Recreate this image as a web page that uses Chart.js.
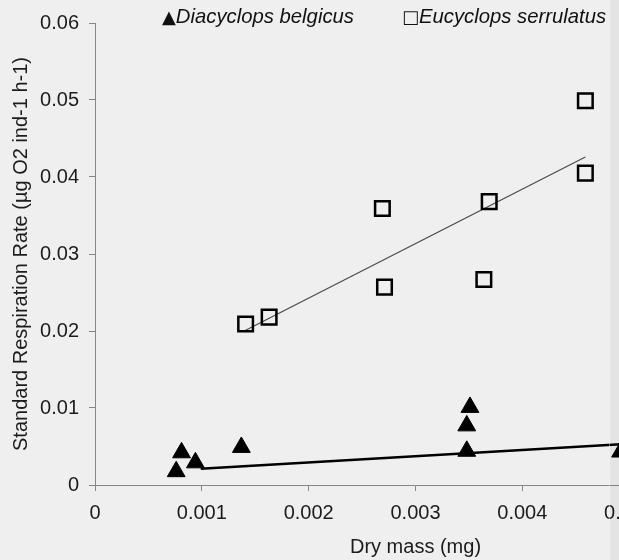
<!DOCTYPE html>
<html>
<head>
<meta charset="utf-8">
<script src="https://cdn.jsdelivr.net/npm/chart.js@4.4.1/dist/chart.umd.min.js"></script>
<style>
  html, body { margin: 0; padding: 0; width: 619px; height: 560px; overflow: hidden; background: #efefef; }
  #wrap { position: relative; width: 619px; height: 560px; overflow: hidden; }
  #respChart { position: absolute; left: 0; top: 0; }
  .legend { position: absolute; top: 4px; font: 20.3px "Liberation Sans", Arial, sans-serif; line-height: 24px; color: #111; white-space: nowrap; }
  .legend .sym { font-family: "DejaVu Sans", sans-serif; font-style: normal; font-size: 18px; }
  .legend i { font-style: italic; }
  #edge { position: absolute; left: 609px; top: 0; width: 10px; height: 560px; background: rgba(0,0,0,0.045); border-left: 1px solid rgba(255,255,255,0.4); pointer-events: none; }
</style>
</head>
<body>
<div id="wrap">
  <canvas id="respChart" width="771" height="560"></canvas>
  <div id="edge"></div>
  <div class="legend" style="left:162px"><span class="sym">▲</span><i>Diacyclops belgicus</i></div>
  <div class="legend" style="left:402px"><span class="sym">□</span><i>Eucyclops serrulatus</i></div>
</div>
<script>
// Diacyclops belgicus (filled triangles)
const diacyclopsMass = [0.00076, 0.00081, 0.00094, 0.00137, 0.00348, 0.00348, 0.00351, 0.00492];
const diacyclopsRate = [0.00175, 0.0042, 0.0029, 0.0049, 0.0044, 0.0077, 0.0101, 0.0043];
// Eucyclops serrulatus (open squares)
const eucyclopsMass = [0.00141, 0.00163, 0.00269, 0.00271, 0.00369, 0.00364, 0.00459, 0.00459];
const eucyclopsRate = [0.0209, 0.0218, 0.0359, 0.0257, 0.0368, 0.0267, 0.0499, 0.0405];
// linear trend lines (end points)
const diacyclopsTrendMass = [0.00099, 0.00492];
const diacyclopsTrendRate = [0.0021, 0.0053];
const eucyclopsTrendMass = [0.00141, 0.00459];
const eucyclopsTrendRate = [0.0201, 0.0426];
// axes
const xTicks = [0, 0.001, 0.002, 0.003, 0.004, 0.005, 0.006];
const yTicks = [0, 0.01, 0.02, 0.03, 0.04, 0.05, 0.06];

function toPoints(xs, ys) {
    return xs.map((x, i) => ({x: x, y: ys[i]}));
}

function fmt(v) {
    return v === 0 ? '0' : String(parseFloat(v.toFixed(4)));
}

const axisColor = '#868686';
const labelFont = {family: '"Liberation Sans", Arial, sans-serif', size: 20};

const ctx = document.getElementById('respChart').getContext('2d');

const config = {
    type: 'scatter',
    data: {
        datasets: [
            {
                label: 'Diacyclops belgicus trend',
                type: 'line',
                data: toPoints(diacyclopsTrendMass, diacyclopsTrendRate),
                borderColor: '#000000',
                borderWidth: 2.5,
                pointRadius: 0,
                fill: false,
                order: 3
            },
            {
                label: 'Eucyclops serrulatus trend',
                type: 'line',
                data: toPoints(eucyclopsTrendMass, eucyclopsTrendRate),
                borderColor: '#4a4a4a',
                borderWidth: 1.2,
                pointRadius: 0,
                fill: false,
                order: 4
            },
            {
                label: 'Diacyclops belgicus',
                data: toPoints(diacyclopsMass, diacyclopsRate),
                pointStyle: 'triangle',
                pointRadius: 10.3,
                backgroundColor: '#000000',
                borderColor: '#000000',
                borderWidth: 1,
                order: 1
            },
            {
                label: 'Eucyclops serrulatus',
                data: toPoints(eucyclopsMass, eucyclopsRate),
                pointStyle: 'rect',
                pointRadius: 10.3,
                backgroundColor: 'rgba(0,0,0,0)',
                borderColor: '#000000',
                borderWidth: 2.5,
                order: 2
            }
        ]
    },
    options: {
        responsive: false,
        animation: false,
        layout: {padding: {top: 23, right: 21, bottom: 0, left: 0}},
        plugins: {
            legend: {display: false},
            tooltip: {enabled: false}
        },
        scales: {
            x: {
                type: 'linear',
                min: xTicks[0],
                max: xTicks[xTicks.length - 1],
                afterFit: s => { s.height = 75; },
                afterBuildTicks: s => { s.ticks = xTicks.map(v => ({value: v})); },
                border: {display: true, color: axisColor, width: 1},
                grid: {drawOnChartArea: false, drawTicks: true, tickLength: 6, color: axisColor},
                ticks: {color: '#1c1c1c', font: labelFont, padding: 10, autoSkip: false, maxRotation: 0, callback: fmt},
                title: {display: true, text: 'Dry mass (mg)', color: '#1c1c1c', font: labelFont, padding: {top: 0, bottom: 1}}
            },
            y: {
                type: 'linear',
                min: yTicks[0],
                max: yTicks[yTicks.length - 1],
                afterFit: s => { s.width = 95; },
                afterBuildTicks: s => { s.ticks = yTicks.map(v => ({value: v})); },
                border: {display: true, color: axisColor, width: 1},
                grid: {drawOnChartArea: false, drawTicks: true, tickLength: 6, color: axisColor},
                ticks: {color: '#1c1c1c', font: labelFont, padding: 10, callback: fmt},
                title: {display: true, text: 'Standard Respiration Rate (µg O2 ind-1 h-1)', color: '#1c1c1c', font: labelFont, padding: {top: 9, bottom: 0}}
            }
        }
    }
};

const respChart = new Chart(ctx, config);
</script>
</body>
</html>
